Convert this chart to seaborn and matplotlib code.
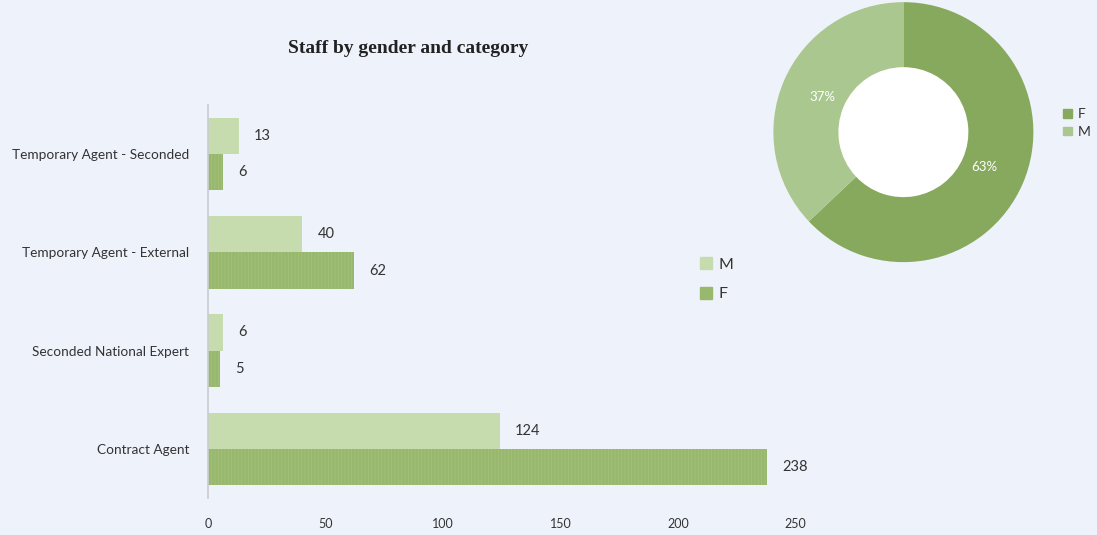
import matplotlib
matplotlib.use("Agg")
import matplotlib.pyplot as plt
import seaborn as sns
import pandas as pd
import numpy as np
from matplotlib.patches import Patch
from matplotlib.lines import Line2D

categories = ["Temporary Agent - Seconded", "Temporary Agent - External",
              "Seconded National Expert", "Contract Agent"]
male = [13, 40, 6, 124]
female = [6, 62, 5, 238]
genders = ["M", "F"]
x_ticks = [0, 50, 100, 150, 200, 250]

BG = "#eef3fb"
C_M = "#c6dbae"
C_F = "#98b86d"
C_DF = "#87a95d"
C_DM = "#aac78f"
TXT = "#333333"

sns.set_theme(style="white")
plt.rcParams["font.family"] = ["Lato", "DejaVu Sans"]
plt.rcParams["hatch.linewidth"] = 0.4

df = pd.DataFrame({
    "category": categories * 2,
    "gender": ["M"] * len(categories) + ["F"] * len(categories),
    "value": male + female,
})

fig = plt.figure(figsize=(10.97, 5.35), dpi=100, facecolor=BG)

ax = fig.add_axes([0.19, 0.069, 0.535, 0.735])
ax.set_facecolor(BG)
sns.barplot(data=df, y="category", x="value", hue="gender", hue_order=genders,
            order=categories, orient="h", palette={"M": C_M, "F": C_F},
            width=0.74, ax=ax, legend=False, saturation=1, linewidth=0)
for cont, g in zip(ax.containers, genders):
    for bar in cont:
        if g == "F":
            bar.set_hatch("|||||")
            bar.set_edgecolor("#a8c47f")
            bar.set_linewidth(0)
    ax.bar_label(cont, padding=11, fontsize=10.5, color=TXT)

ax.set_xlim(0, 250)
ax.set_ylim(3.5, -0.5)
ax.set_xticks(x_ticks)
ax.set_xticklabels([str(t) for t in x_ticks], fontsize=9, color=TXT)
ax.tick_params(axis="y", labelsize=9.8, colors=TXT, length=0, pad=14)
ax.tick_params(axis="x", length=0, pad=14)
ax.set_xlabel("")
ax.set_ylabel("")
for s in ["top", "right", "bottom"]:
    ax.spines[s].set_visible(False)
ax.spines["left"].set_color("#c8ccd2")
ax.spines["left"].set_linewidth(1.2)

ax.legend(handles=[Line2D([0], [0], marker="s", color="none", markerfacecolor=C_M,
                          markeredgecolor=C_M, markersize=8, label="M"),
                   Line2D([0], [0], marker="s", color="none", markerfacecolor=C_F,
                          markeredgecolor=C_F, markersize=8, label="F")],
          loc="center left", bbox_to_anchor=(0.81, 0.556), frameon=False,
          fontsize=11.5, labelspacing=0.95, handletextpad=0.3, handlelength=1.0,
          labelcolor=TXT)

fig.text(0.372, 0.91, "Staff by gender and category", ha="center", va="center",
         fontsize=14, fontweight="bold", family="Liberation Serif", color="#222222")

# donut
pax = fig.add_axes([0.705, 0.510, 0.237, 0.486])
pax.set_facecolor(BG)
totals = [sum(female), sum(male)]
wedges, texts, autotexts = pax.pie(
    totals, colors=[C_DF, C_DM], startangle=90, counterclock=False,
    wedgeprops=dict(width=0.5, edgecolor="none"), autopct="%1.0f%%",
    pctdistance=0.68, textprops=dict(color="white", fontsize=9.5))
pax.add_patch(plt.Circle((0, 0), 0.5, color="white", zorder=0))
pax.set_xlim(-1.0, 1.0)
pax.set_ylim(-1.0, 1.0)
pax.set_aspect("equal")
fig.legend(handles=[Patch(color=C_DF, label="F"), Patch(color=C_DM, label="M")],
           loc="center left", bbox_to_anchor=(0.958, 0.77), frameon=False,
           fontsize=10, handlelength=0.6, handleheight=0.6, handletextpad=0.4,
           labelspacing=0.4, labelcolor=TXT)

fig.savefig("out.png", dpi=100, facecolor=BG)
